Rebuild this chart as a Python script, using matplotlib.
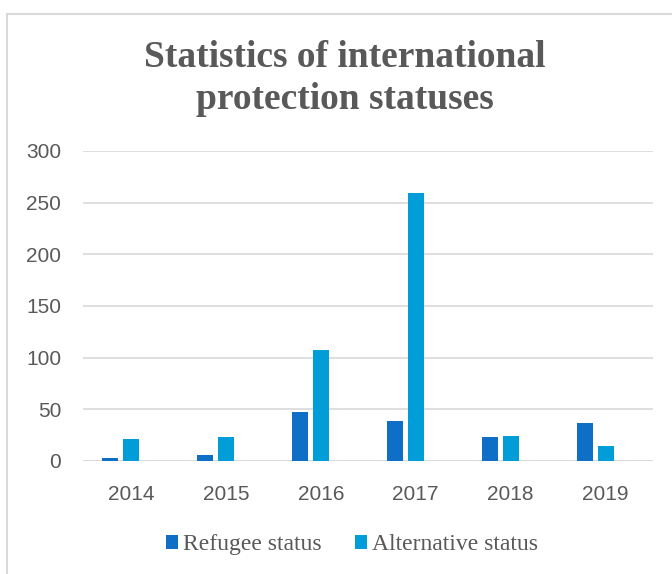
import matplotlib
matplotlib.use("Agg")
import matplotlib.pyplot as plt
import numpy as np
from matplotlib.patches import Rectangle

years = ["2014", "2015", "2016", "2017", "2018", "2019"]
refugee = [3, 6, 47, 39, 23, 37]
alternative = [21, 23, 107, 259, 24, 14]
yticks = [0, 50, 100, 150, 200, 250, 300]

C_REF = "#0F6FC6"
C_ALT = "#009DD9"
GREY = "#595959"

fig = plt.figure(figsize=(6.72, 5.74), dpi=100)
ax = fig.add_axes([0.124, 0.197, 0.848, 0.540])

# Excel-style clustered layout: a third (empty) series slot sits to the right
x = np.arange(len(years))
w = 0.17
step = 0.222
ax.bar(x - step, refugee, w, color=C_REF, label="Refugee status", zorder=3)
ax.bar(x, alternative, w, color=C_ALT, label="Alternative status", zorder=3)

ax.set_xlim(-0.5, len(years) - 0.5)
ax.set_ylim(0, 300)
ax.set_yticks(yticks)
ax.set_xticks(x)
ax.set_xticklabels(years)
ax.yaxis.grid(True, color="#D9D9D9", linewidth=1.2, zorder=0)
for s in ["top", "right", "left", "bottom"]:
    ax.spines[s].set_visible(False)
ax.axhline(0, color="#D9D9D9", linewidth=1.2, zorder=1)
ax.tick_params(axis="both", length=0, labelsize=15, labelcolor=GREY)
ax.tick_params(axis="x", pad=17)
ax.tick_params(axis="y", pad=16)
for lab in ax.get_xticklabels() + ax.get_yticklabels():
    lab.set_family("Liberation Sans")

title_kw = dict(ha="center", va="baseline", fontsize=27, fontweight="bold",
                family="Liberation Serif", color=GREY)
fig.text(0.513, 0.8838, "Statistics of international", **title_kw)
fig.text(0.513, 0.810, "protection statuses", **title_kw)

leg = fig.legend(loc="center", bbox_to_anchor=(0.524, 0.051), ncol=2, frameon=False,
                 prop={"family": "Liberation Serif", "size": 17},
                 handlelength=0.5, handleheight=0.5, handletextpad=0.22,
                 columnspacing=1.4)
for t in leg.get_texts():
    t.set_color(GREY)

fig.patches.append(Rectangle((0.0104, -0.1), 1.2, 1.076, transform=fig.transFigure,
                             fill=False, edgecolor="#D9D9D9", linewidth=1.5))

fig.savefig("out.png", dpi=100)
